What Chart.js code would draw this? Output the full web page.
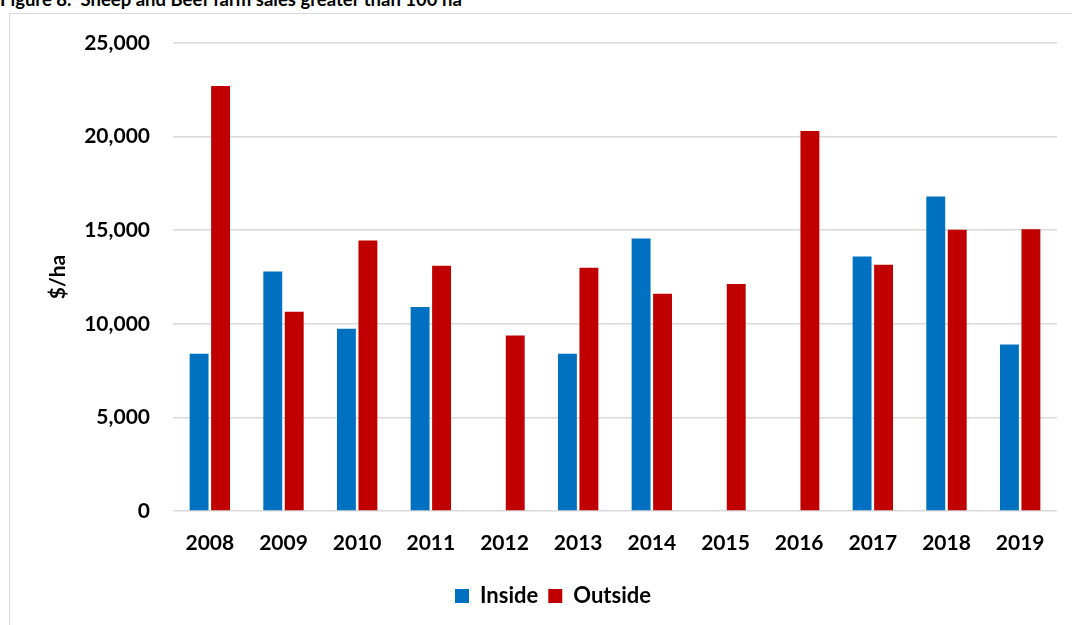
<!DOCTYPE html>
<html>
<head>
<meta charset="utf-8">
<script src="https://cdn.jsdelivr.net/npm/chart.js@4/dist/chart.umd.min.js"></script>
<style>
  html, body { margin: 0; padding: 0; width: 1072px; height: 625px; overflow: hidden; background: #fff; }
  #caption {
    position: absolute; left: 0; top: -13px;
    font-family: Lato, sans-serif; font-weight: bold; font-size: 18.5px;
    line-height: 24px; color: #000; white-space: nowrap;
  }
  #frame {
    position: absolute; left: 9px; top: 13px;
    width: 1086px; height: 611px;
    border-left: 1px solid #d9d9d9; border-top: 1px solid #d9d9d9;
  }
  #chart { display: block; }
</style>
</head>
<body>
<div id="caption">Figure 8.&nbsp; Sheep and Beef farm sales greater than 100 ha</div>
<div id="frame"><canvas id="chart" width="1086" height="611"></canvas></div>
<script>
// Data
const years = ['2008', '2009', '2010', '2011', '2012', '2013', '2014', '2015', '2016', '2017', '2018', '2019'];
const inside = [8400, 12800, 9730, 10900, null, 8400, 14550, null, null, 13590, 16800, 8900];
const outside = [22700, 10640, 14450, 13100, 9380, 13000, 11610, 12130, 20300, 13160, 15030, 15050];

const labelFont = { family: 'Lato, sans-serif', size: 21, weight: 'bold' };

new Chart(document.getElementById('chart'), {
    type: 'bar',
    data: {
        labels: years,
        datasets: [
            {
                label: 'Inside',
                data: inside,
                backgroundColor: '#0070c0',
                categoryPercentage: 0.583,
                barPercentage: 0.88
            },
            {
                label: 'Outside',
                data: outside,
                backgroundColor: '#c00000',
                categoryPercentage: 0.583,
                barPercentage: 0.88
            }
        ]
    },
    options: {
        responsive: false,
        animation: false,
        layout: {
            padding: { left: 0, right: 0, top: 29, bottom: 8 }
        },
        plugins: {
            legend: {
                position: 'bottom',
                labels: {
                    font: { family: 'Lato, sans-serif', size: 22, weight: 'bold' },
                    color: '#000',
                    boxWidth: 14,
                    boxHeight: 14,
                    padding: 10
                }
            },
            tooltip: { enabled: false }
        },
        scales: {
            x: {
                grid: { display: false },
                border: { display: false },
                ticks: { font: labelFont, color: '#000', padding: 12 },
                afterFit: function(scale) { scale.height = 64; }
            },
            y: {
                min: 0,
                max: 25000,
                ticks: {
                    stepSize: 5000,
                    font: labelFont,
                    color: '#000',
                    padding: 0,
                    callback: function(value) { return value.toLocaleString('en-US'); }
                },
                // invisible tick marks give the gap between labels and plot
                // (tick padding would also push the plot area down)
                grid: { color: '#d9d9d9', lineWidth: 1.5, drawTicks: true, tickLength: 23, tickColor: 'rgba(0,0,0,0)' },
                border: { display: false },
                title: {
                    display: true,
                    text: '$/ha',
                    font: labelFont,
                    color: '#000',
                    padding: { top: 36, bottom: 0 }
                },
                afterFit: function(scale) { scale.width = 163; }
            },
            // empty right-hand spacer so the plot ends where the original does
            spacer: {
                type: 'linear',
                position: 'right',
                display: true,
                grid: { display: false },
                border: { display: false },
                ticks: { display: false },
                afterFit: function(scale) { scale.width = 39; }
            }
        }
    }
});
</script>
</body>
</html>
